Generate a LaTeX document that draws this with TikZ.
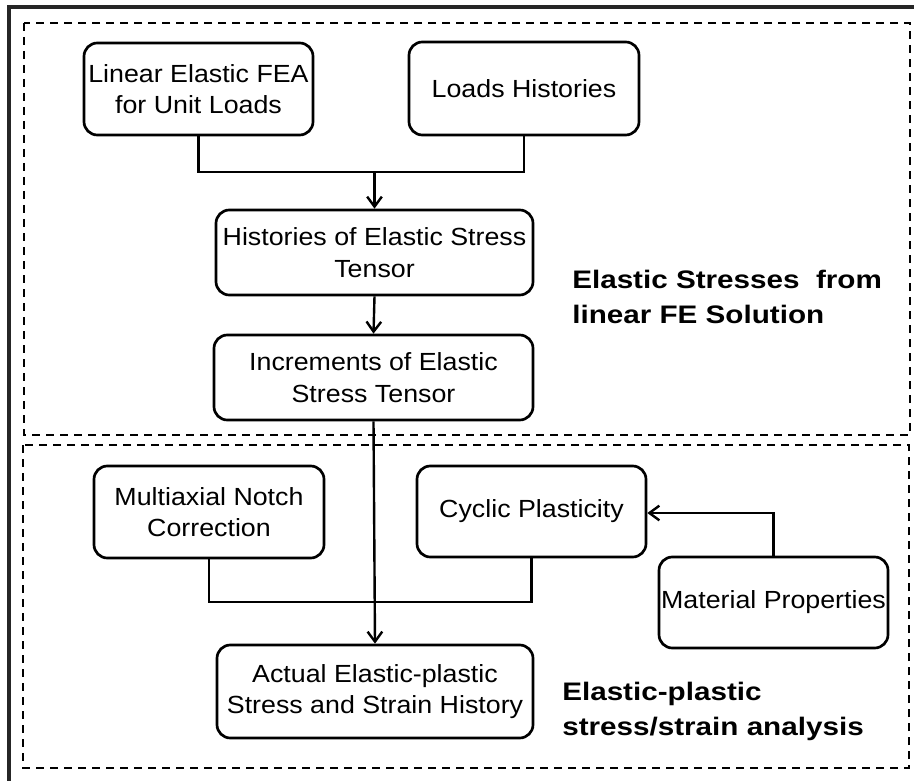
\documentclass[tikz,border=0pt]{standalone}
\usepackage{fontspec}
\setmainfont{Liberation Sans}[FakeStretch=1.08]
\newfontfamily\lblfont{Liberation Sans}[FakeStretch=1.17]
\usetikzlibrary{arrows.meta}
\begin{document}
\begin{tikzpicture}[x=0.75pt,y=-0.75pt,
  box/.style={draw=black, line width=2pt, rounded corners=10pt, inner sep=1pt,
    align=center, font=\fontsize{18.6pt}{23.5pt}\selectfont},
  conn/.style={draw=black, line width=1.8pt},
  arr/.style={conn, -{Straight Barb[length=7.5pt,width=11pt,line width=1.8pt]}},
  region/.style={draw=black, line width=1.8pt, dash pattern=on 6pt off 4.5pt},
  lbl/.style={anchor=base west, align=left, inner sep=0pt,
    font=\lblfont\bfseries\fontsize{19pt}{26.25pt}\selectfont}]
\useasboundingbox (0,0) rectangle (914,781);
% outer frame (top and left edges)
\draw[line width=2.4pt, black!85] (914,7) -- (9,7) -- (9,781);
% regions
\draw[region] (24,23) rectangle (910,435);
\draw[region] (23,445) rectangle (909,768);
% nodes
\node[box, minimum width=171.75pt, minimum height=69pt] (fea) at (198.5,89) {Linear Elastic FEA\\for Unit Loads};
\node[box, minimum width=172.5pt, minimum height=69.75pt] (loads) at (524,88.5) {Loads Histories};
\node[box, minimum width=237.75pt, minimum height=63.75pt] (hist) at (374.5,252.5) {Histories of Elastic Stress\\Tensor};
\node[box, minimum width=239.25pt, minimum height=63.75pt] (incr) at (373.5,377.5) {Increments of Elastic\\Stress Tensor};
\node[box, minimum width=172.5pt, minimum height=69pt] (multi) at (209,512) {Multiaxial Notch\\Correction};
\node[box, minimum width=171.75pt, minimum height=68.25pt] (cyclic) at (531.5,511.5) {Cyclic Plasticity};
\node[box, minimum width=171.75pt, minimum height=68.25pt] (mat) at (773.5,602.5) {Material Properties};
\node[box, minimum width=237pt, minimum height=69.75pt] (actual) at (375,691.5) {Actual Elastic-plastic\\Stress and Strain History};
% labels (anchor is the baseline of the last line)
\node[lbl] (lblA) at (572,323) {Elastic Stresses~ from\\linear FE Solution};
\node[lbl] (lblB) at (562,735) {Elastic-plastic\\stress/strain analysis};
% connectors
\coordinate (j1) at (hist.north |- 0,172);
\draw[conn] (fea.south) |- (j1) -| (loads.south);
\draw[arr] (j1) -- (hist.north);
\draw[arr] (hist.south) -- (incr.north);
\draw[arr] (incr.south) -- (actual.north);
\coordinate (j2) at (multi.south |- 0,602);
\draw[conn] (multi.south) -- (j2) -| (cyclic.south);
\coordinate (j3) at (mat.north |- 0,513);
\draw[arr] (mat.north) -- (j3) -- (cyclic.east |- j3);
\end{tikzpicture}
\end{document}
